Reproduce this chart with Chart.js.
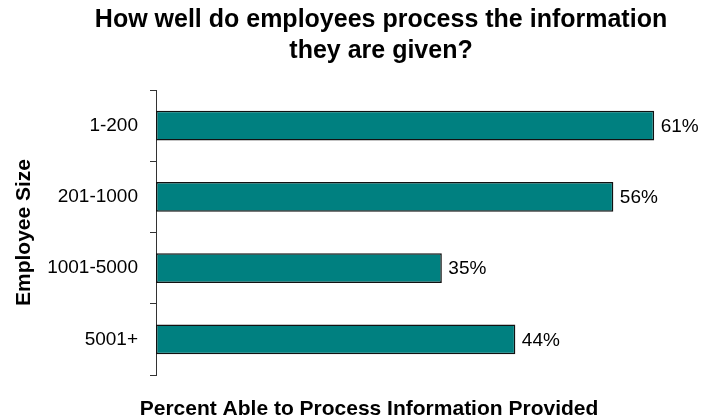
<!DOCTYPE html>
<html>
<head>
<meta charset="utf-8">
<title>Employee information processing</title>
<script src="https://cdn.jsdelivr.net/npm/chart.js@4.4.1/dist/chart.umd.min.js"></script>
<style>
  html, body { margin: 0; padding: 0; background: #fff; }
  #wrap { width: 703px; height: 419px; position: relative; }
</style>
</head>
<body>
<div id="wrap"><canvas id="chart"></canvas></div>
<script>
const sizeGroups = ['1-200', '201-1000', '1001-5000', '5001+'];
const percentAble = [61, 56, 35, 44];
const titleLines = ['How well do employees process the information', 'they are given?'];
const xTitle = 'Percent Able to Process Information Provided';
const yTitle = 'Employee Size';

const FONT = "'Liberation Sans', Arial, sans-serif";

// title + bottom caption, drawn as plain canvas text
const captions = {
  id: 'captions',
  afterDraw(chart, args, opts) {
    const { ctx } = chart;
    ctx.save();
    ctx.fillStyle = '#000';
    ctx.textAlign = 'center';
    ctx.textBaseline = 'alphabetic';
    ctx.font = `bold ${opts.titleSize}px ${FONT}`;
    titleLines.forEach((line, i) => {
      ctx.fillText(line, opts.titleX, opts.titleY + i * opts.titleGap);
    });
    ctx.font = `bold ${opts.captionSize}px ${FONT}`;
    ctx.fillText(xTitle, opts.captionX, opts.captionY);
    ctx.restore();
  },
};

// "61%" style value labels at the end of each bar
const barValues = {
  id: 'barValues',
  afterDatasetsDraw(chart, args, opts) {
    const { ctx } = chart;
    const meta = chart.getDatasetMeta(0);
    ctx.save();
    ctx.fillStyle = '#000';
    ctx.font = `${opts.size}px ${FONT}`;
    ctx.textAlign = 'left';
    ctx.textBaseline = 'middle';
    meta.data.forEach((bar, i) => {
      ctx.fillText(`${percentAble[i]}%`, bar.x + opts.gap, bar.y + 1);
    });
    ctx.restore();
  },
};

new Chart(document.getElementById('chart'), {
  type: 'bar',
  data: {
    labels: sizeGroups,
    datasets: [{
      data: percentAble,
      backgroundColor: '#008080',
      borderColor: '#111',
      borderWidth: 1.5,
      borderSkipped: false,
      barPercentage: 0.42,
      categoryPercentage: 1,
    }],
  },
  options: {
    indexAxis: 'y',
    responsive: true,
    maintainAspectRatio: false,
    animation: false,
    layout: { padding: { top: 90, right: 8, left: 0, bottom: 0 } },
    plugins: {
      legend: { display: false },
      tooltip: { enabled: false },
      captions: { titleSize: 25, titleX: 381, titleY: 27, titleGap: 31, captionSize: 21, captionX: 369, captionY: 415 },
      barValues: { size: 19, gap: 6.5 },
    },
    scales: {
      x: {
        min: 0,
        max: 66,
        grid: { display: false },
        border: { display: false },
        ticks: { display: false },
        afterFit(scale) { scale.height = 44; },
      },
      y: {
        grid: { drawOnChartArea: false, drawTicks: true, tickLength: 6, color: '#333', offset: true },
        border: { display: true, color: '#333', width: 1 },
        ticks: { color: '#000', padding: 12, font: { family: FONT, size: 19 } },
        title: {
          display: true,
          text: yTitle,
          color: '#000',
          font: { family: FONT, size: 21, weight: 'bold', lineHeight: 1.2 },
          padding: { top: 12, bottom: 0 },
        },
        afterFit(scale) { scale.width = 156; },
      },
    },
  },
  plugins: [captions, barValues],
});
</script>
</body>
</html>
